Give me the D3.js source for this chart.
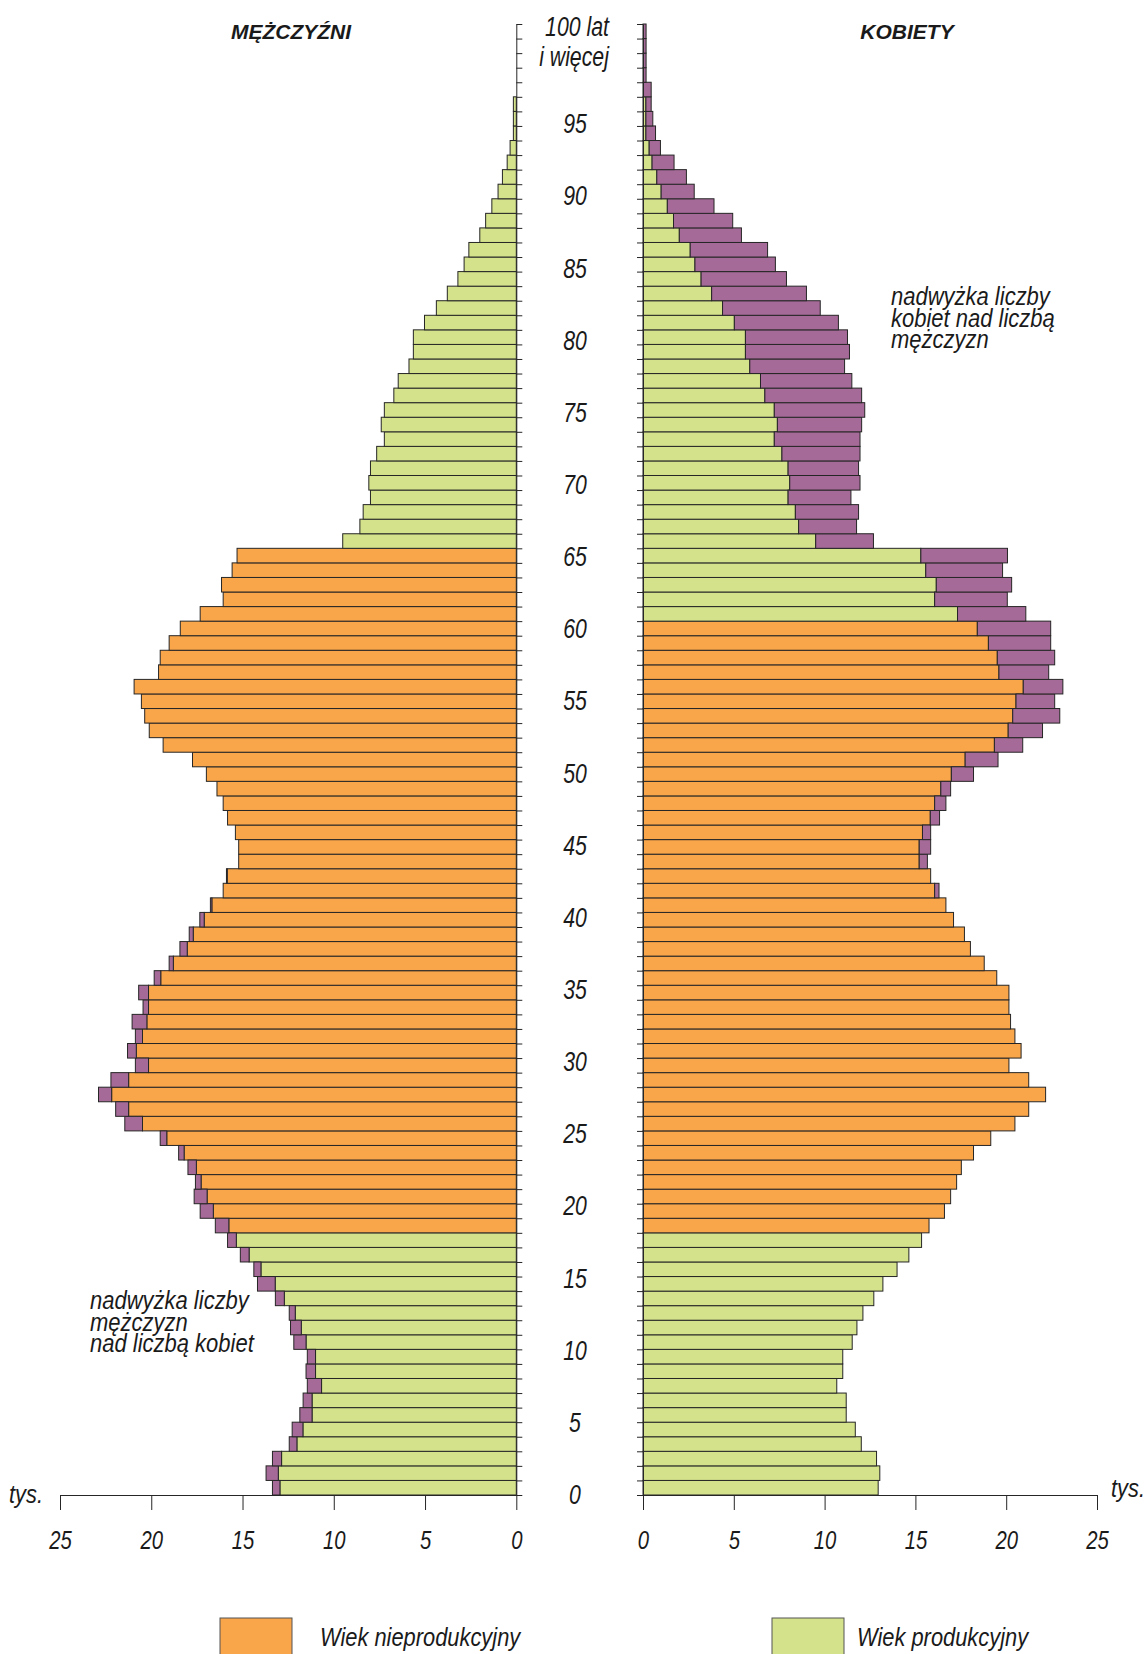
<!DOCTYPE html>
<html>
<head>
<meta charset="utf-8">
<script src="https://cdn.jsdelivr.net/npm/d3@7"></script>
<style>
  body { margin: 0; background: #fff; }
  text { font-family: "Liberation Sans", Arial, sans-serif; font-style: italic; fill: #1a1a1a; }
</style>
</head>
<body>
<svg id="chart"></svg>
<script>
// age groups 0..100 ("100 lat i więcej" is the last one)
const ages = d3.range(0, 101)

// thousands of people
const male = [
  13.36, 13.71, 13.36, 12.44, 12.28, 11.86, 11.68, 11.45, 11.52, 11.45,
  12.19, 12.37, 12.44, 13.2, 14.18, 14.38, 15.12, 15.82, 16.49, 17.32,
  17.65, 17.58, 17.99, 18.5, 19.51, 21.45, 21.95, 22.89, 22.21, 20.87,
  21.3, 20.87, 21.05, 20.45, 20.69, 19.84, 19.02, 18.43, 17.92, 17.34,
  16.76, 16.06, 15.88, 15.21, 15.21, 15.39, 15.82, 16.06, 16.4, 16.98,
  17.74, 19.35, 20.11, 20.36, 20.54, 20.94, 19.6, 19.51, 19.02, 18.41,
  17.32, 16.06, 16.15, 15.57, 15.3, 9.51, 8.57, 8.39, 7.99, 8.08,
  7.99, 7.65, 7.23, 7.4, 7.23, 6.71, 6.47, 5.88, 5.64, 5.64,
  5.03, 4.38, 3.78, 3.2, 2.86, 2.6, 2.0, 1.68, 1.34, 1.0,
  0.76, 0.5, 0.34, 0.16, 0.16, 0.16, 0, 0, 0, 0,
  0
]
const female = [
  12.95, 13.04, 12.86, 12.02, 11.69, 11.19, 11.19, 10.67, 11.0, 11.0,
  11.52, 11.78, 12.11, 12.71, 13.21, 13.99, 14.64, 15.34, 15.75, 16.6,
  16.94, 17.27, 17.53, 18.2, 19.15, 20.48, 21.24, 22.17, 21.24, 20.15,
  20.82, 20.48, 20.24, 20.15, 20.15, 19.48, 18.79, 18.03, 17.7, 17.1,
  16.68, 16.3, 15.84, 15.66, 15.84, 15.84, 16.33, 16.68, 16.94, 18.2,
  19.55, 20.91, 22.0, 22.95, 22.67, 23.12, 22.34, 22.67, 22.45, 22.45,
  21.08, 20.06, 20.3, 19.8, 20.07, 12.69, 11.76, 11.87, 11.45, 11.95,
  11.87, 11.95, 11.95, 12.04, 12.21, 12.04, 11.5, 11.1, 11.37, 11.26,
  10.76, 9.76, 9.0, 7.9, 7.29, 6.86, 5.42, 4.94, 3.91, 2.82,
  2.39, 1.71, 0.96, 0.69, 0.54, 0.45, 0.45, 0.17, 0.17, 0.17,
  0.17
]

const ageTicks = [0, 5, 10, 15, 20, 25, 30, 35, 40, 45, 50, 55, 60, 65, 70, 75, 80, 85, 90, 95]
const valueTicks = [0, 5, 10, 15, 20, 25]

// ages drawn in orange (from, to)
const maleOrange = [18, 64]
const femaleOrange = [18, 59]

const width = 1148
const height = 1654
const orange = '#f9a54a'
const green = '#d4e28b'
const purple = '#a66a98'
const ink = '#262626'

const svg = d3.select('#chart')
  .attr('width', width)
  .attr('height', height)

const y = d3.scaleLinear().domain([0, 101]).range([1495, 24])
const yLabel = d3.scaleLinear().domain([0, 100]).range([1494, 51])
const xL = d3.scaleLinear().domain([0, 25]).range([516.3, 60])
const xR = d3.scaleLinear().domain([0, 25]).range([643, 1097])

const rows = ages.map((a, i) => ({ age: a, m: male[i], f: female[i] }))

function baseColor(age, range) {
  return (age >= range[0] && age <= range[1]) ? orange : green
}

// the original uses a condensed italic face, so squeeze the text sideways
function label(x, yy, str, size, sx, anchor) {
  return svg.append('text')
    .attr('transform', 'translate(' + x + ',' + yy + ') scale(' + sx + ',1)')
    .attr('text-anchor', anchor || 'start')
    .style('font-size', size + 'px')
    .text(str)
}

// men, left side
const gm = svg.append('g')
gm.selectAll('rect.base')
  .data(rows.filter(d => Math.min(d.m, d.f) > 0))
  .enter()
  .append('rect')
  .attr('class', 'base')
  .attr('x', d => xL(Math.min(d.m, d.f)))
  .attr('y', d => y(d.age + 1))
  .attr('width', d => xL(0) - xL(Math.min(d.m, d.f)))
  .attr('height', d => y(d.age) - y(d.age + 1))
  .attr('fill', d => baseColor(d.age, maleOrange))
  .attr('stroke', ink)
  .attr('stroke-width', 1)

gm.selectAll('rect.extra')
  .data(rows.filter(d => d.m > d.f))
  .enter()
  .append('rect')
  .attr('class', 'extra')
  .attr('x', d => xL(d.m))
  .attr('y', d => y(d.age + 1))
  .attr('width', d => xL(d.f) - xL(d.m))
  .attr('height', d => y(d.age) - y(d.age + 1))
  .attr('fill', purple)
  .attr('stroke', ink)
  .attr('stroke-width', 1)

// women, right side
const gf = svg.append('g')
gf.selectAll('rect.base')
  .data(rows.filter(d => Math.min(d.m, d.f) > 0))
  .enter()
  .append('rect')
  .attr('class', 'base')
  .attr('x', xR(0))
  .attr('y', d => y(d.age + 1))
  .attr('width', d => xR(Math.min(d.m, d.f)) - xR(0))
  .attr('height', d => y(d.age) - y(d.age + 1))
  .attr('fill', d => baseColor(d.age, femaleOrange))
  .attr('stroke', ink)
  .attr('stroke-width', 1)

gf.selectAll('rect.extra')
  .data(rows.filter(d => d.f > d.m))
  .enter()
  .append('rect')
  .attr('class', 'extra')
  .attr('x', d => xR(d.m))
  .attr('y', d => y(d.age + 1))
  .attr('width', d => xR(d.f) - xR(d.m))
  .attr('height', d => y(d.age) - y(d.age + 1))
  .attr('fill', purple)
  .attr('stroke', ink)
  .attr('stroke-width', 1)

// vertical axes with a tick on every row border
const rowBorders = d3.range(0, 102)
svg.append('g')
  .attr('transform', 'translate(' + xL(0) + ',0)')
  .call(d3.axisRight(y).tickValues(rowBorders).tickFormat('').tickSize(6).tickSizeOuter(0))
svg.append('g')
  .attr('transform', 'translate(' + xR(0) + ',0)')
  .call(d3.axisLeft(y).tickValues(rowBorders).tickFormat('').tickSize(6).tickSizeOuter(0))

// bottom axes
function bottomAxis(scale) {
  const g = svg.append('g')
    .attr('transform', 'translate(0,' + y(0) + ')')
    .call(d3.axisBottom(scale).tickValues(valueTicks).tickSize(15).tickSizeOuter(0))
  g.selectAll('text')
    .attr('y', 0)
    .attr('dy', 0)
    .attr('transform', 'translate(0,54) scale(0.78,1)')
    .attr('fill', null)
    .style('font-size', '26px')
    .style('font-family', '"Liberation Sans", Arial, sans-serif')
  return g
}
bottomAxis(xL)
bottomAxis(xR)
svg.selectAll('.domain, .tick line').attr('stroke', ink)

// age labels
svg.append('g')
  .selectAll('text')
  .data(ageTicks)
  .enter()
  .append('text')
  .attr('transform', d => 'translate(575,' + yLabel(d) + ') scale(0.76,1)')
  .attr('dy', '0.36em')
  .attr('text-anchor', 'middle')
  .style('font-size', '28px')
  .text(d => d)

label(577, 36, '100 lat', 28, 0.76, 'middle')
label(574, 66, 'i więcej', 28, 0.76, 'middle')

label(9, 1503, 'tys.', 26, 0.84)
label(1111, 1497, 'tys.', 26, 0.84)

// titles
svg.append('text').attr('x', 291).attr('y', 39).attr('text-anchor', 'middle')
  .style('font-weight', 'bold').style('font-size', '21px').text('MĘŻCZYŹNI')
svg.append('text').attr('x', 907).attr('y', 39).attr('text-anchor', 'middle')
  .style('font-weight', 'bold').style('font-size', '21px').text('KOBIETY')

// notes
function note(x, y0, lines) {
  const t = svg.append('text')
    .attr('transform', 'translate(' + x + ',' + y0 + ') scale(0.88,1)')
    .style('font-size', '25px')
  lines.forEach((s, i) => {
    t.append('tspan').attr('x', 0).attr('y', i * 21.7).text(s)
  })
}
note(891, 305, ['nadwyżka liczby', 'kobiet nad liczbą', 'mężczyzn'])
note(90, 1309, ['nadwyżka liczby', 'mężczyzn', 'nad liczbą kobiet'])

// legend
const legend = [
  { label: 'Wiek nieprodukcyjny', color: orange, x: 220, tx: 320 },
  { label: 'Wiek produkcyjny', color: green, x: 772, tx: 857 }
]
const lg = svg.append('g')
lg.selectAll('rect')
  .data(legend)
  .enter()
  .append('rect')
  .attr('x', d => d.x)
  .attr('y', 1618)
  .attr('width', 72)
  .attr('height', 50)
  .attr('fill', d => d.color)
  .attr('stroke', '#555')
lg.selectAll('text')
  .data(legend)
  .enter()
  .append('text')
  .attr('transform', d => 'translate(' + d.tx + ',1646) scale(0.875,1)')
  .style('font-size', '25px')
  .text(d => d.label)
</script>
</body>
</html>
